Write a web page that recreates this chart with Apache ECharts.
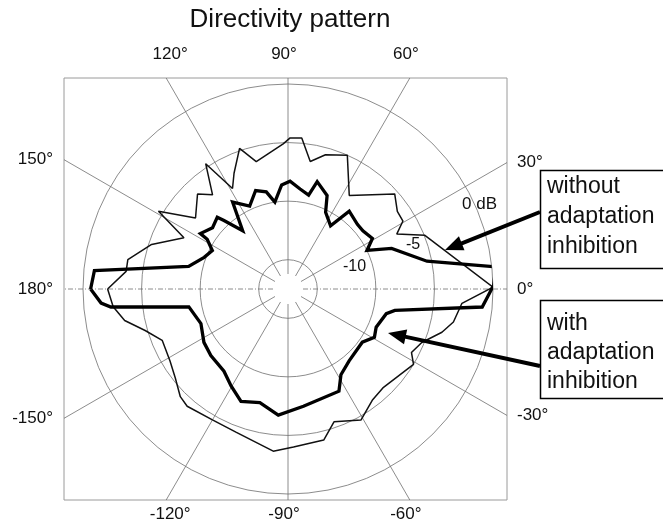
<!DOCTYPE html>
<html><head><meta charset="utf-8">
<script src="https://cdn.jsdelivr.net/npm/echarts@6/dist/echarts.min.js"></script>
<style>html,body{margin:0;padding:0;background:#fff}#c{width:663px;height:525px}</style>
</head><body><div id="c"></div>
<script>
// ---------- data ----------
const chartTitle = 'Directivity pattern';
const spokeAngles = [0, 30, 60, 90, 120, 150, 180, -150, -120, -90, -60, -30];
const angleLabels = ['0°', '30°', '60°', '90°', '120°', '150°', '180°', '-150°', '-120°', '-90°', '-60°', '-30°'];
const ringLabels = ['-10', '-5', '0 dB'];
const seriesNames = ['without adaptation inhibition', 'with adaptation inhibition'];

// without adaptation inhibition (thin line): angle in degrees, level in dB
const thinAngles = [-180, -174.2, -169.1, -163.8, -157.8, -148.6, -141.8, -135, -130.7, -120, -110, -95.2, -88, -76.7, -70.9, -60.9, -52.6, -46.2, -31, -27.2, -21.8, -15.7, -11.3, -4.7, 0.5, 21.4, 26.8, 30.6, 35.4, 41.7, 56.8, 66.1, 74.4, 80.1, 84.8, 89.2, 91.9, 104, 109, 115, 118.9, 123.3, 128.7, 133.6, 142.5, 149, 153.8, 161.9, 169.6, 173.8, 180];
const thinDb = [-2.1, -2.5, -3.3, -4.8, -5.9, -5.7, -5.25, -4.5, -4.3, -4.6, -4.5, -3.6, -4.0, -4.25, -5.5, -4.7, -5.6, -5.8, -5.0, -5.65, -5.2, -3.85, -3.1, -2.6, 0.0, -4.95, -7.1, -6.1, -6.05, -5.3, -7.95, -5.0, -5.6, -6.45, -4.55, -4.6, -5.1, -6.3, -4.8, -6.6, -7.7, -4.7, -7.2, -6.3, -7.55, -4.6, -7.6, -5.25, -3.6, -3.6, -2.1];

// with adaptation inhibition (thick line)
const thickAngles = [-180, -175.7, -174.2, -169.8, -158.3, -147.6, -139.2, -127.9, -120.4, -112.7, -103.9, -94.4, -82.5, -63.5, -58.3, -49.6, -35.6, -29.2, -23.4, -14.1, -11.3, -5.3, 1, 6.1, 11.3, 21.4, 26, 30.9, 37.9, 43, 51.8, 56, 63.9, 67.3, 74.8, 77.6, 83.1, 88.9, 93.5, 98.6, 102.6, 108.2, 114.8, 122.5, 127.9, 133.1, 134.6, 140.9, 147.7, 148.4, 153, 159.3, 167.2, 174.6, 180];
const thickDb = [-0.65, -1.5, -2.3, -8.9, -9.5, -9.0, -8.8, -8.6, -7.9, -7.1, -7.5, -6.7, -7.4, -7.75, -8.9, -9.45, -9.7, -9.05, -9.3, -8.85, -8.2, -0.85, 0.05, 0.35, -5.4, -8.0, -10.0, -9.1, -9.4, -9.4, -9.05, -11.0, -10.2, -8.85, -8.0, -9.3, -8.9, -8.3, -8.6, -10.0, -9.0, -8.65, -9.7, -8.7, -11.2, -9.5, -8.9, -9.2, -8.65, -9.4, -10.25, -9.85, -8.8, -0.9, -0.65];

// ---------- layout ----------
const FONT = "'Liberation Sans', Arial, Helvetica, sans-serif";
const CX = 288, CY = 289;
const BOX = {left: 64, top: 78, right: 507, bottom: 500};
const R0 = 205;          // radius of the 0 dB ring in px
const DB_MIN = -17.5;    // level at the centre

function boxHit(a) {
  const r = a * Math.PI / 180, c = Math.cos(r), s = Math.sin(r);
  let t = Infinity, edge = '';
  if (c > 1e-9 && (BOX.right - CX) / c < t) { t = (BOX.right - CX) / c; edge = 'right'; }
  if (c < -1e-9 && (BOX.left - CX) / c < t) { t = (BOX.left - CX) / c; edge = 'left'; }
  if (s > 1e-9 && (CY - BOX.top) / s < t) { t = (CY - BOX.top) / s; edge = 'top'; }
  if (s < -1e-9 && (CY - BOX.bottom) / s < t) { t = (CY - BOX.bottom) / s; edge = 'bottom'; }
  return {c, s, t, edge};
}

const spokeSeries = spokeAngles.map(a => {
  const h = boxHit(a);
  const horiz = (a === 0 || a === 180);
  return {
    type: 'line', coordinateSystem: 'cartesian2d', silent: true, symbol: 'none', z: 1,
    data: [[15 * h.c, 15 * h.s], [h.t * h.c, h.t * h.s]],
    lineStyle: {color: '#6f6f6f', width: 0.8, type: horiz ? [5, 2, 1, 2] : 'solid'},
    animation: false
  };
});

const labelGraphics = spokeAngles.map((a, i) => {
  const h = boxHit(a);
  const px = CX + h.t * h.c, py = CY - h.t * h.s;
  let x = px, y = py, align = 'center';
  if (h.edge === 'top') { y = BOX.top - 24; x = px - 4 * Math.sign(h.c); }
  else if (h.edge === 'bottom') { y = BOX.bottom + 14; x = px - 4 * Math.sign(h.c); }
  else if (h.edge === 'right') { x = BOX.right + 10; align = 'left'; }
  else { x = BOX.left - 11; align = 'right'; }
  return {type: 'text', x, y, z: 10,
    style: {text: angleLabels[i], font: '17px ' + FONT, fill: '#111', align, verticalAlign: 'middle', textAlign: align, textVerticalAlign: 'middle'}};
});

function arrow(x1, y1, x2, y2, w) {
  const dx = x1 - x2, dy = y1 - y2, L = Math.hypot(dx, dy), ux = dx / L, uy = dy / L;
  const hl = 18, hw = 7.5;
  const bx = x2 + ux * hl, by = y2 + uy * hl;
  return [
    {type: 'line', z: 10, shape: {x1, y1, x2: x2 + ux * (hl - 2), y2: y2 + uy * (hl - 2)}, style: {stroke: '#000', lineWidth: w}},
    {type: 'polygon', z: 10, shape: {points: [[x2, y2], [bx - uy * hw, by + ux * hw], [bx + uy * hw, by - ux * hw]]}, style: {fill: '#000'}}
  ];
}

function textEl(t, x, y, size, align) {
  return {type: 'text', x, y, z: 11,
    style: {text: t, font: size + 'px ' + FONT, fill: '#111', align: align || 'left', verticalAlign: 'middle', textAlign: align || 'left', textVerticalAlign: 'middle'}};
}

const words1 = seriesNames[0].split(' ');
const words2 = seriesNames[1].split(' ');

const graphics = [].concat(
  labelGraphics,
  [textEl(chartTitle, 290, 20, 26, 'center')],
  [textEl(ringLabels[0], 343, 267, 16), textEl(ringLabels[1], 406, 245, 16), textEl(ringLabels[2], 462, 204, 17)],
  [{type: 'rect', z: 10, shape: {x: 540.5, y: 170.5, width: 140, height: 98}, style: {fill: '#fff', stroke: '#000', lineWidth: 1.5}}],
  words1.map((w, i) => textEl(w, 547, 187 + i * 30, 23)),
  [{type: 'rect', z: 10, shape: {x: 540.5, y: 300.5, width: 140, height: 98}, style: {fill: '#fff', stroke: '#000', lineWidth: 1.5}}],
  words2.map((w, i) => textEl(w, 547, 324 + i * 29, 23)),
  arrow(540, 212, 445, 250, 4),
  arrow(540, 366, 388, 333, 4)
);

const chart = echarts.init(document.getElementById('c'), null, {renderer: 'canvas'});
chart.setOption({
  animation: false,
  backgroundColor: '#fff',
  grid: {left: BOX.left, top: BOX.top, width: BOX.right - BOX.left, height: BOX.bottom - BOX.top,
    show: true, borderColor: '#9a9a9a', borderWidth: 1, backgroundColor: 'transparent'},
  xAxis: {type: 'value', min: BOX.left - CX, max: BOX.right - CX, show: false},
  yAxis: {type: 'value', min: CY - BOX.bottom, max: CY - BOX.top, show: false},
  polar: {center: [CX, CY], radius: R0},
  angleAxis: {type: 'value', min: -180, max: 180, startAngle: 180, clockwise: false,
    axisLine: {show: false}, axisTick: {show: false}, axisLabel: {show: false}, splitLine: {show: false}},
  radiusAxis: {type: 'value', min: DB_MIN, max: 0, splitNumber: 4,
    axisLine: {show: false}, axisTick: {show: false}, axisLabel: {show: false},
    splitLine: {show: true, lineStyle: {color: '#6f6f6f', width: 0.8}}},
  graphic: graphics,
  series: spokeSeries.concat([
    {name: seriesNames[0], type: 'line', coordinateSystem: 'polar', symbol: 'none', clip: false, z: 5,
      data: thinAngles.map((a, i) => [thinDb[i], a]),
      lineStyle: {color: '#111', width: 1.5}},
    {name: seriesNames[1], type: 'line', coordinateSystem: 'polar', symbol: 'none', clip: false, z: 6,
      data: thickAngles.map((a, i) => [thickDb[i], a]),
      lineStyle: {color: '#000', width: 3.3, join: 'miter'}}
  ])
});
</script></body></html>
